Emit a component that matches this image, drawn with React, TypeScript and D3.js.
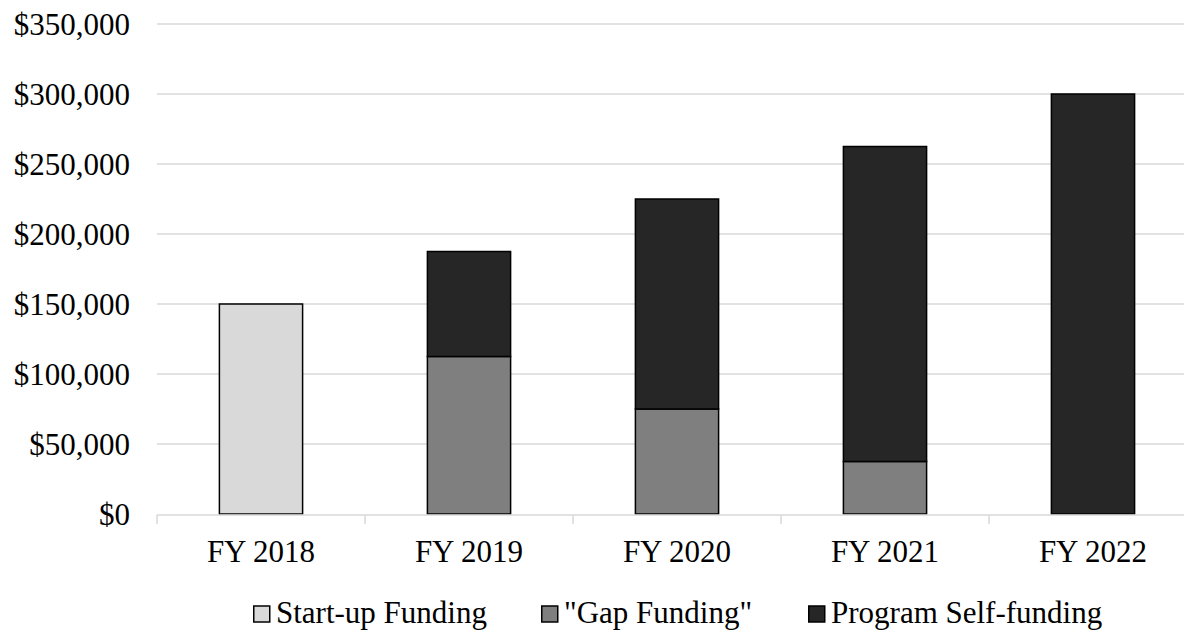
import React, { useEffect, useRef } from 'react';
import * as d3 from 'd3';

const years = ['FY 2018', 'FY 2019', 'FY 2020', 'FY 2021', 'FY 2022'];
const startUp = [150000, 0, 0, 0, 0];
const gapFunding = [0, 112500, 75000, 37500, 0];
const selfFunding = [0, 75000, 150000, 225000, 300000];
const yTicks = [0, 50000, 100000, 150000, 200000, 250000, 300000, 350000];
const seriesNames = ['Start-up Funding', '"Gap Funding"', 'Program Self-funding'];
const seriesColors = ['#d9d9d9', '#7f7f7f', '#262626'];

const W = 1184;
const H = 631;
const FONT = '"Liberation Serif", "Times New Roman", serif';

export default function App() {
  const ref = useRef<SVGSVGElement>(null);

  useEffect(() => {
    const svg = d3.select(ref.current);
    svg.selectAll('*').remove();

    const x = d3.scaleBand()
      .domain(years)
      .range([157, 1197])
      .paddingInner(0.6)
      .paddingOuter(0.3);

    const y = d3.scaleLinear()
      .domain([0, 350000])
      .range([514, 24]);

    // gridlines
    svg.append('g')
      .selectAll('line')
      .data(yTicks.slice(1))
      .join('line')
      .attr('x1', 157)
      .attr('x2', W)
      .attr('y1', d => y(d))
      .attr('y2', d => y(d))
      .attr('stroke', '#d9d9d9')
      .attr('stroke-width', 1.5);

    // y labels
    const fmt = d3.format('$,');
    svg.append('g')
      .selectAll('text')
      .data(yTicks)
      .join('text')
      .attr('x', 130)
      .attr('y', d => y(d) + 10.5)
      .attr('text-anchor', 'end')
      .style('font-family', FONT)
      .style('font-size', '31px')
      .attr('fill', '#000')
      .text(d => fmt(d));

    // stacked bars
    const rows = years.map((yr, i) => ({
      year: yr,
      start: startUp[i],
      gap: gapFunding[i],
      self: selfFunding[i],
    }));
    const stack = d3.stack<any>().keys(['start', 'gap', 'self']);
    const layers = stack(rows);

    svg.append('g')
      .selectAll('g')
      .data(layers)
      .join('g')
      .attr('fill', (d, i) => seriesColors[i])
      .selectAll('rect')
      .data(d => d.filter(p => p[1] - p[0] > 0))
      .join('rect')
      .attr('x', d => x(d.data.year)!)
      .attr('width', x.bandwidth())
      .attr('y', d => y(d[1]))
      .attr('height', d => y(d[0]) - y(d[1]))
      .attr('stroke', '#000')
      .attr('stroke-width', 1.5);

    // x axis
    const xAxis = svg.append('g');
    xAxis.append('line')
      .attr('x1', 157)
      .attr('x2', W)
      .attr('y1', 515)
      .attr('y2', 515)
      .attr('stroke', '#d9d9d9')
      .attr('stroke-width', 1.5);
    xAxis.selectAll('.tick')
      .data(years)
      .join('line')
      .attr('class', 'tick')
      .attr('x1', d => x(d)! - x.step() * 0.3)
      .attr('x2', d => x(d)! - x.step() * 0.3)
      .attr('y1', 515)
      .attr('y2', 524)
      .attr('stroke', '#d9d9d9')
      .attr('stroke-width', 1.5);
    xAxis.selectAll('.lbl')
      .data(years)
      .join('text')
      .attr('class', 'lbl')
      .attr('x', d => x(d)! + x.bandwidth() / 2)
      .attr('y', 562)
      .attr('text-anchor', 'middle')
      .style('font-family', FONT)
      .style('font-size', '31px')
      .attr('fill', '#000')
      .text(d => d);

    // legend
    const legendX = [253, 541, 808];
    const lg = svg.append('g')
      .selectAll('g')
      .data(seriesNames)
      .join('g')
      .attr('transform', (d, i) => `translate(${legendX[i]}, 0)`);
    lg.append('rect')
      .attr('x', 0.75)
      .attr('y', 606)
      .attr('width', 16)
      .attr('height', 16)
      .attr('fill', (d, i) => seriesColors[i])
      .attr('stroke', '#000')
      .attr('stroke-width', 1.5);
    lg.append('text')
      .attr('x', 23)
      .attr('y', 623)
      .style('font-family', FONT)
      .style('font-size', '31px')
      .attr('fill', '#000')
      .text(d => d);
  }, []);

  return (
    <svg
      ref={ref}
      width={W}
      height={H}
      style={{ position: 'fixed', left: 0, top: 0, background: '#fff' }}
    />
  );
}
